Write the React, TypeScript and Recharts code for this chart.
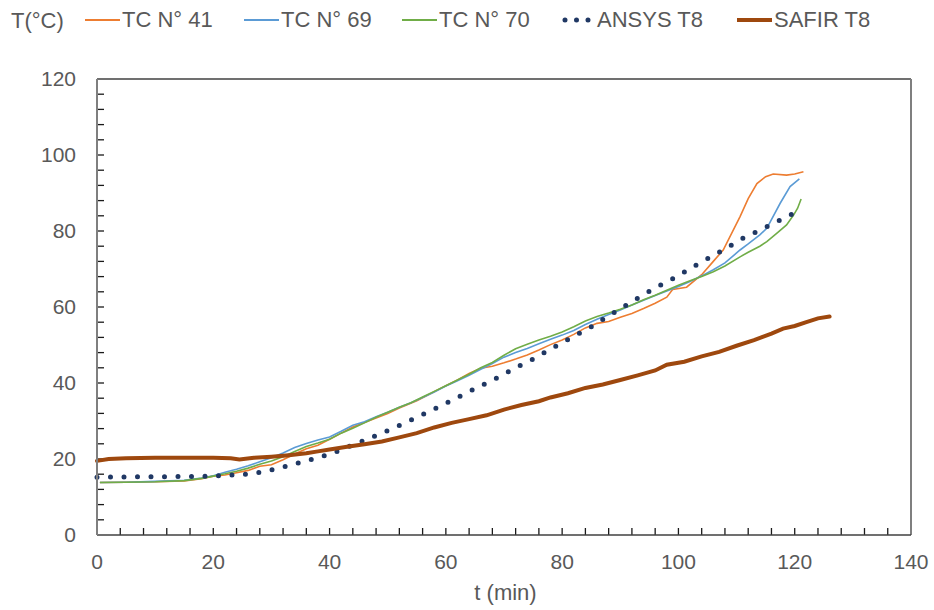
import { LineChart, Line, XAxis, YAxis, ReferenceLine } from "recharts";

// TC N° 41 (orange)
const tc41Time = [0.5, 5, 10, 15, 18, 20, 22, 24, 26, 28, 30, 32, 34, 36, 38, 40, 42, 44, 46, 48, 50, 52, 55, 58, 60, 62, 64, 66, 68, 70, 72, 74, 76, 78, 80, 82, 84, 86, 88, 90, 92, 94, 96, 98, 99, 101.4, 104, 106, 107.7, 110.6, 112, 113.5, 115, 116.3, 118.6, 120, 121.5];
const tc41Temp = [13.8, 13.9, 14, 14.2, 14.8, 15.5, 15.8, 16.4, 17, 18.1, 18.5, 19.8, 21.3, 22.7, 23.6, 25.2, 26.8, 28.4, 29.6, 30.8, 32, 33.4, 35.3, 37.7, 39.3, 40.8, 42.5, 43.9, 44.4, 45.3, 46.3, 47.4, 48.7, 50.1, 51.3, 52.8, 54.5, 55.7, 56.2, 57.3, 58.3, 59.6, 61, 62.6, 64.6, 65.2, 68.5, 72, 75, 83.8, 88.5, 92.5, 94.3, 95, 94.7, 95, 95.6];

// TC N° 69 (blue)
const tc69Time = [0.5, 5, 10, 15, 18, 20, 22, 24, 26, 28, 30, 32, 34, 36, 38, 40, 42, 44, 46, 48, 50, 52, 54, 56, 58, 60, 62, 64, 66, 68, 70, 72, 74, 76, 78, 80, 82, 84, 86, 88, 90, 92, 94, 96, 98, 100, 102, 104, 106, 108, 110.6, 112, 114, 115.2, 117.5, 119.2, 120.8];
const tc69Temp = [13.8, 13.9, 14.1, 14.4, 15, 15.6, 16.5, 17.3, 18.2, 19.3, 20.3, 21.6, 23, 24.1, 25, 25.8, 27.3, 28.9, 29.8, 31.1, 32.3, 33.6, 34.8, 36.2, 37.6, 39.2, 40.6, 42, 43.6, 45.1, 46.8, 48, 49.1, 50.3, 51.5, 52.6, 53.8, 55.4, 56.8, 58, 59.2, 60.5, 61.8, 63, 64.2, 65.4, 66.7, 68.2, 69.8, 71.6, 75, 76.6, 79, 80.7, 87.3, 91.7, 93.7];

// TC N° 70 (green)
const tc70Time = [0.5, 5, 10, 15, 18, 20, 22, 24, 26, 28, 30, 32, 34, 36, 38, 40, 42, 44, 46, 48, 50, 52, 54, 56, 58, 60, 62, 64, 66, 68, 70, 72, 74, 76, 78, 80, 82, 84, 86, 88, 90, 92, 94, 96, 98, 100, 102, 104, 106, 108, 110.6, 112, 114, 115.2, 117, 118.6, 119.8, 120.5, 121.1];
const tc70Temp = [13.8, 13.9, 14, 14.3, 14.9, 15.5, 16.1, 16.8, 17.6, 18.6, 19.5, 20.6, 22, 23.3, 24.2, 25.2, 26.8, 28.1, 29.5, 31, 32.3, 33.6, 34.8, 36.3, 37.8, 39.3, 40.8, 42.3, 44, 45.4, 47.3, 49, 50.2, 51.3, 52.3, 53.4, 54.8, 56.3, 57.5, 58.4, 59.4, 60.5, 61.9, 63.1, 64.4, 65.7, 66.9, 68, 69.3, 70.8, 73.2, 74.4, 76, 77.2, 79.5, 81.6, 84.2, 86, 88.4];

// ANSYS T8 (dotted navy)
const ansysTime = [0, 5, 10, 15, 20, 25, 28, 31, 33, 35.5, 38, 40, 42, 44, 46.5, 48.5, 50.5, 53, 56, 59, 62, 65, 69.4, 72, 75, 79.6, 82, 85, 89.6, 93.4, 96, 99.7, 103, 107.7, 111, 114, 117, 120];
const ansysTemp = [15.2, 15.3, 15.3, 15.4, 15.5, 15.9, 16.5, 17.5, 18.3, 19.3, 20.3, 21.3, 22.4, 23.7, 25.2, 26.5, 27.8, 29.5, 31.7, 33.9, 36.2, 38.5, 41.8, 44, 46.3, 50.3, 52.3, 54.8, 59.2, 62.7, 65, 68, 71, 75, 78, 80.2, 82.5, 84.8];

// SAFIR T8 (thick brown)
const safirTime = [0, 2, 5, 10, 15, 20, 23, 24.5, 27, 30, 33, 36, 38, 40, 43, 46, 49, 52, 55, 58, 61, 64, 67, 70, 73, 76, 78, 81, 84, 87, 90, 93, 96, 98, 101, 104, 107, 110, 113, 116, 118, 120, 122, 124, 126];
const safirTemp = [19.5, 20, 20.2, 20.3, 20.3, 20.3, 20.2, 19.9, 20.3, 20.6, 21, 21.5, 22, 22.5, 23.2, 23.9, 24.6, 25.7, 26.8, 28.3, 29.5, 30.5, 31.5, 33, 34.2, 35.2, 36.2, 37.3, 38.7, 39.6, 40.8, 42, 43.3, 44.8, 45.6, 47, 48.2, 49.8, 51.3, 53, 54.3, 55, 56, 57, 57.5];

const X_MAX = 140;
const Y_MAX = 120;
const xLabels = [0, 20, 40, 60, 80, 100, 120, 140];
const yLabels = [0, 20, 40, 60, 80, 100, 120];
// minor tick positions, every 4 units
const xMinor = Array.from({ length: 34 }, (_, i) => (i + 1) * 4);
const yMinor = Array.from({ length: 29 }, (_, i) => (i + 1) * 4);

const toPoints = (ts: number[], vs: number[]) => ts.map((t, i) => ({ t, v: vs[i] }));

const FONT = "'Liberation Sans', Arial, sans-serif";
const TEXT = "#595959";
const AXIS = "#404040";

// plot area in px, used to turn a 7px tick length into axis units
const PLOT_W = 934 - 97 - 23;
const PLOT_H = 610 - 79 - 75;
const TICK_PX = 7;
const tickLenX = (TICK_PX * X_MAX) / PLOT_W;
const tickLenY = (TICK_PX * Y_MAX) / PLOT_H;

const XLabel = (props: any) => {
  const { x, y, payload } = props;
  return (
    <text x={x} y={y + 34} textAnchor="middle" fontSize={21} fill={TEXT} fontFamily={FONT}>
      {payload.value}
    </text>
  );
};

const YLabel = (props: any) => {
  const { x, y, payload } = props;
  return (
    <text x={x - 21} y={y + 7} textAnchor="end" fontSize={21} fill={TEXT} fontFamily={FONT}>
      {payload.value}
    </text>
  );
};

const legendItems = [
  { name: "TC N° 41", color: "#ED7D31", kind: "thin", left: 85 },
  { name: "TC N° 69", color: "#5B9BD5", kind: "thin", left: 244 },
  { name: "TC N° 70", color: "#70AD47", kind: "thin", left: 402 },
  { name: "ANSYS T8", color: "#203864", kind: "dots", left: 560 },
  { name: "SAFIR T8", color: "#9E480E", kind: "thick", left: 737 },
];

export default function App() {
  return (
    <div style={{ position: "relative", width: 934, height: 610, background: "#fff" }}>
      <style>{"body{margin:0}"}</style>
      <LineChart width={934} height={610} margin={{ top: 79, right: 23, bottom: 45, left: 0 }}>
        <XAxis
          dataKey="t"
          type="number"
          domain={[0, X_MAX]}
          ticks={xLabels}
          interval={0}
          height={30}
          tickSize={0}
          tickMargin={0}
          tickLine={false}
          tick={<XLabel />}
          axisLine={{ stroke: AXIS, strokeWidth: 1.5 }}
        />
        <YAxis
          type="number"
          domain={[0, Y_MAX]}
          ticks={yLabels}
          interval={0}
          width={97}
          tickSize={0}
          tickMargin={0}
          tickLine={false}
          tick={<YLabel />}
          axisLine={{ stroke: "#7f7f7f", strokeWidth: 2 }}
        />
        <ReferenceLine y={Y_MAX} stroke={AXIS} strokeWidth={1.5} ifOverflow="visible" />
        <ReferenceLine x={X_MAX} stroke="#7f7f7f" strokeWidth={2} ifOverflow="visible" />
        {xMinor.map((t) => (
          <ReferenceLine
            key={`xt${t}`}
            segment={[{ x: t, y: 0 }, { x: t, y: tickLenY }]}
            stroke="#1a1a1a"
            strokeWidth={1.3}
            ifOverflow="visible"
          />
        ))}
        {yMinor.map((v) => (
          <ReferenceLine
            key={`yt${v}`}
            segment={[{ x: 0, y: v }, { x: tickLenX, y: v }]}
            stroke="#1a1a1a"
            strokeWidth={1.3}
            ifOverflow="visible"
          />
        ))}
        <Line data={toPoints(tc41Time, tc41Temp)} dataKey="v" stroke="#ED7D31" strokeWidth={1.6} dot={false} isAnimationActive={false} />
        <Line data={toPoints(tc69Time, tc69Temp)} dataKey="v" stroke="#5B9BD5" strokeWidth={1.6} dot={false} isAnimationActive={false} />
        <Line data={toPoints(tc70Time, tc70Temp)} dataKey="v" stroke="#70AD47" strokeWidth={1.6} dot={false} isAnimationActive={false} />
        <Line
          data={toPoints(ansysTime, ansysTemp)}
          dataKey="v"
          stroke="#203864"
          strokeWidth={5}
          strokeDasharray="0 13.5"
          strokeLinecap="round"
          dot={false}
          isAnimationActive={false}
        />
        <Line data={toPoints(safirTime, safirTemp)} dataKey="v" stroke="#9E480E" strokeWidth={4} strokeLinecap="round" dot={false} isAnimationActive={false} />
      </LineChart>

      <div style={{ position: "absolute", left: 11, top: 8, fontFamily: FONT, fontSize: 22, color: TEXT }}>T(°C)</div>
      {legendItems.map((it) => (
        <div
          key={it.name}
          style={{ position: "absolute", left: it.left, top: 6, height: 28, display: "flex", alignItems: "center", fontFamily: FONT, fontSize: 22, color: TEXT }}
        >
          <svg width={35} height={10} style={{ marginRight: 2 }}>
            {it.kind === "dots" ? (
              <line x1={5} x2={33} y1={5} y2={5} stroke={it.color} strokeWidth={5} strokeDasharray="0 11.5" strokeLinecap="round" />
            ) : (
              <line x1={0} x2={35} y1={5} y2={5} stroke={it.color} strokeWidth={it.kind === "thick" ? 4 : 2} />
            )}
          </svg>
          <span>{it.name}</span>
        </div>
      ))}
      <div style={{ position: "absolute", left: 0, width: 1011, top: 580, textAlign: "center", fontFamily: FONT, fontSize: 22, color: TEXT }}>t (min)</div>
    </div>
  );
}
